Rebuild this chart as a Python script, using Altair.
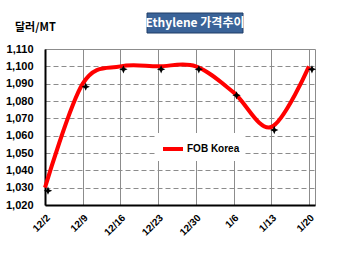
import altair as alt
import pandas as pd

dates = ["12/2", "12/9", "12/16", "12/23", "12/30", "1/6", "1/13", "1/20"]
prices = [1030, 1090, 1100, 1100, 1100, 1085, 1065, 1100]
series_name = "FOB Korea"
y_ticks = list(range(1020, 1111, 10))
title_text = "Ethylene 가격추이"
unit_text = "달러/MT"

df = pd.DataFrame({"i": list(range(len(dates))), "date": dates,
                   "price": prices, "series": series_name})

label_expr = "[" + ",".join(f"'{d}'" for d in dates) + "][datum.value]"
FONT = "Liberation Sans"

xaxis = alt.Axis(values=list(range(len(dates))), tickCount=len(dates), labelExpr=label_expr,
                 labelAngle=-45, labelAlign="right", labelBaseline="middle",
                 labelPadding=11, labelOffset=3, tickSize=0, grid=True, gridColor="#8c8c8c",
                 gridWidth=1, domainColor="black", domainWidth=2,
                 labelOverlap=False, labelBound=False, labelFlush=False,
                 labelFont=FONT, labelFontWeight="bold", labelFontSize=10,
                 labelColor="black", title=None)
yaxis = alt.Axis(values=y_ticks, tickCount=len(y_ticks), format=",d", tickSize=0, labelPadding=12,
                 grid=True, gridColor="#8c8c8c", gridDash=[5, 3], gridWidth=1,
                 domainColor="black", domainWidth=2, labelFont=FONT,
                 labelOverlap=False, labelBound=False, labelFlush=False,
                 labelFontWeight="bold", labelFontSize=11, labelColor="black",
                 title=None)
xscale = alt.Scale(domain=[0, 7.16], nice=False, zero=False)
yscale = alt.Scale(domain=[1020, 1110], nice=False, zero=False)

base = alt.Chart(df)

line = base.mark_line(strokeWidth=4, interpolate="cardinal").encode(
    x=alt.X("i:Q", scale=xscale, axis=xaxis),
    y=alt.Y("price:Q", scale=yscale, axis=yaxis),
    color=alt.Color("series:N", scale=alt.Scale(range=["#ff0000"]),
                    legend=alt.Legend(orient="none", legendX=112, legendY=84, title=None,
                                      fillColor="white", padding=4, symbolType="stroke",
                                      symbolStrokeWidth=4, symbolSize=400, labelOffset=2,
                                      labelFont=FONT, labelFontWeight="bold",
                                      labelFontSize=10, labelColor="black")))

star = "M0,-1L0.3,-0.3L1,0L0.3,0.3L0,1L-0.3,0.3L-1,0L-0.3,-0.3Z"
points = base.mark_point(shape=star, filled=True, color="black", size=70,
                         xOffset=3, yOffset=3, opacity=1).encode(
    x=alt.X("i:Q", scale=xscale, axis=xaxis),
    y=alt.Y("price:Q", scale=yscale, axis=yaxis))

tdf = pd.DataFrame({"t": [title_text]})
box = alt.Chart(tdf).mark_rect(fill="#3a6398", stroke="#1f3d66", strokeWidth=1).encode(
    x=alt.value(102), x2=alt.value(198), y=alt.value(-36), y2=alt.value(-16))
ttext = alt.Chart(tdf).mark_text(font="Noto Sans CJK KR", fontWeight="bold", fontSize=12,
                                 color="white", align="center", baseline="middle").encode(
    x=alt.value(150), y=alt.value(-26), text="t:N")
udf = pd.DataFrame({"t": [unit_text]})
utext = alt.Chart(udf).mark_text(font="Noto Sans CJK KR", fontWeight="bold", fontSize=11,
                                 color="black", align="left", baseline="middle").encode(
    x=alt.value(-30), y=alt.value(-21), text="t:N")

chart = alt.layer(line, points, box, ttext, utext).properties(
    width=270, height=156,
    autosize=alt.AutoSizeParams(type="none"),
    padding={"left": 45, "top": 49, "right": 35, "bottom": 48},
    background="white",
).configure_view(stroke="#8c8c8c", strokeWidth=1)

chart.save("out.html", embed_options={"renderer": "svg", "actions": False})
